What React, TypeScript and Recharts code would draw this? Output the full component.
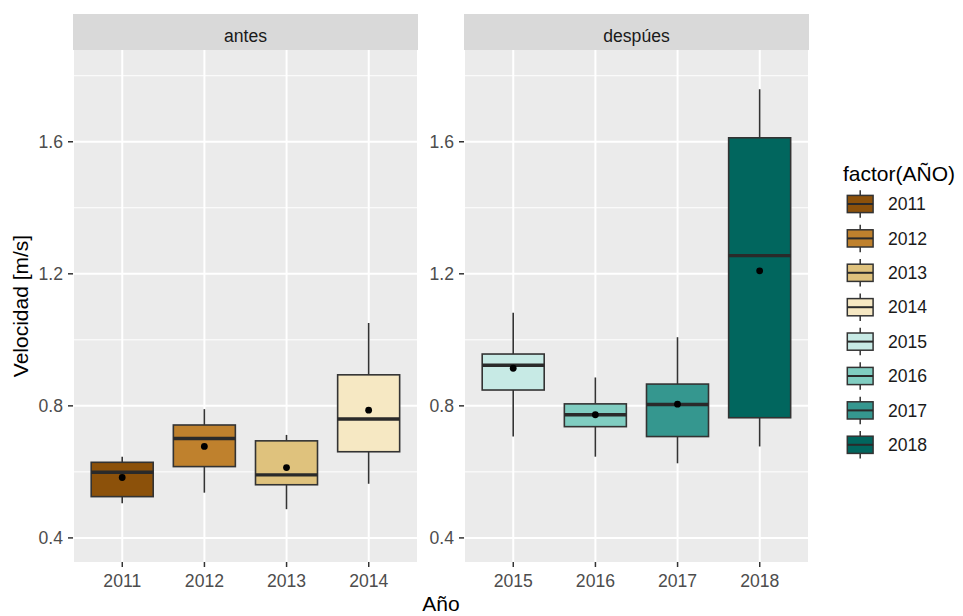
import React from 'react';
import { ComposedChart, Bar, XAxis, YAxis, CartesianGrid } from 'recharts';

const years = ['2011', '2012', '2013', '2014', '2015', '2016', '2017', '2018'];
const panelAntes = ['2011', '2012', '2013', '2014'];
const panelDespues = ['2015', '2016', '2017', '2018'];
const whiskerLow = [0.505, 0.537, 0.487, 0.564, 0.707, 0.646, 0.626, 0.677];
const q1 = [0.525, 0.616, 0.561, 0.661, 0.848, 0.737, 0.707, 0.764];
const median = [0.599, 0.701, 0.591, 0.760, 0.923, 0.773, 0.804, 1.255];
const q3 = [0.629, 0.742, 0.694, 0.894, 0.957, 0.806, 0.866, 1.612];
const whiskerHigh = [0.646, 0.790, 0.712, 1.051, 1.082, 0.886, 1.008, 1.759];
const mean = [0.583, 0.677, 0.613, 0.787, 0.914, 0.773, 0.805, 1.209];
const colors = ['#8C510A', '#BF812D', '#DFC27D', '#F6E8C3', '#C7EAE5', '#80CDC1', '#35978F', '#01665E'];
const majorTicks = [0.4, 0.8, 1.2, 1.6];
const minorTicks = [0.6, 1.0, 1.4, 1.8];
const stripLabels = ['antes', 'despúes'];

const FONT = '"Liberation Sans", Arial, sans-serif';
const OUTLINE = '#333333';

const rowsFor = (panel: string[]) =>
  panel.map((yr) => {
    const i = years.indexOf(yr);
    return {
      year: yr,
      lo: whiskerLow[i],
      q1: q1[i],
      med: median[i],
      q3: q3[i],
      hi: whiskerHigh[i],
      mean: mean[i],
      fill: colors[i],
    };
  });

const BoxShape = (props: any) => {
  const { x, y, width, height, payload } = props;
  if (!payload) return null;
  const top = Math.min(y, y + height);
  const bottom = Math.max(y, y + height);
  const span = payload.hi - payload.lo;
  const py = (v: number) => top + ((bottom - top) * (payload.hi - v)) / span;
  const cx = x + width / 2;
  return (
    <g>
      <line x1={cx} x2={cx} y1={py(payload.hi)} y2={py(payload.q3)} stroke={OUTLINE} strokeWidth={1.6} />
      <line x1={cx} x2={cx} y1={py(payload.q1)} y2={py(payload.lo)} stroke={OUTLINE} strokeWidth={1.6} />
      <rect
        x={x}
        y={py(payload.q3)}
        width={width}
        height={py(payload.q1) - py(payload.q3)}
        fill={payload.fill}
        stroke={OUTLINE}
        strokeWidth={1.6}
      />
      <line x1={x} x2={x + width} y1={py(payload.med)} y2={py(payload.med)} stroke="#2A2A2A" strokeWidth={3.4} />
      <circle cx={cx} cy={py(payload.mean)} r={3.4} fill="#000000" />
    </g>
  );
};

const tickStyle = { fill: '#4D4D4D', fontSize: 17.6, fontFamily: FONT };

function Panel({ panel, left, showTitle }: { panel: string[]; left: number; showTitle: boolean }) {
  const rows = rowsFor(panel);
  return (
    <div style={{ position: 'absolute', left, top: 0 }}>
      <ComposedChart width={420} height={616} data={rows} margin={{ top: 50, right: 2, bottom: 24, left: 0 }}>
        <CartesianGrid fill="#EBEBEB" stroke="#FFFFFF" strokeWidth={1} horizontalValues={minorTicks} vertical={false} />
        <CartesianGrid stroke="#FFFFFF" strokeWidth={2} horizontalValues={majorTicks} />
        <XAxis
          dataKey="year"
          type="category"
          interval={0}
          height={30}
          padding={{ left: 8.2, right: 8.2 }}
          axisLine={false}
          tickLine={{ stroke: OUTLINE, strokeWidth: 1.5 }}
          tickSize={5}
          tickMargin={8}
          tick={tickStyle}
        />
        <YAxis
          type="number"
          domain={[0.327, 1.878]}
          ticks={majorTicks}
          allowDataOverflow
          width={73}
          axisLine={false}
          tickLine={{ stroke: OUTLINE, strokeWidth: 1.5 }}
          tickSize={5}
          tickMargin={5}
          tick={tickStyle}
          tickFormatter={(v: number) => v.toFixed(1)}
          label={
            showTitle
              ? {
                  value: 'Velocidad [m/s]',
                  angle: -90,
                  position: 'insideLeft',
                  offset: 21,
                  style: { textAnchor: 'middle', fontSize: 21, fill: '#000000', fontFamily: FONT },
                }
              : undefined
          }
        />
        <Bar dataKey={(d: any) => [d.lo, d.hi]} barSize={62} shape={BoxShape} isAnimationActive={false} />
      </ComposedChart>
    </div>
  );
}

function Overlay() {
  const strips = [
    { x0: 73, x1: 418 },
    { x0: 464, x1: 809 },
  ];
  const keyCell = 34.4;
  const keyTop = 204 - keyCell / 2;
  return (
    <svg
      width={963}
      height={616}
      style={{ position: 'absolute', left: 0, top: 0, pointerEvents: 'none' }}
      fontFamily={FONT}
    >
      {strips.map((s, i) => (
        <g key={i}>
          <rect x={s.x0} y={14} width={s.x1 - s.x0} height={36} fill="#D9D9D9" />
          <text x={(s.x0 + s.x1) / 2} y={41.5} textAnchor="middle" fontSize={17.6} fill="#1A1A1A">
            {stripLabels[i]}
          </text>
        </g>
      ))}
      <text x={441} y={611} textAnchor="middle" fontSize={21} fill="#000000">
        Año
      </text>
      <text x={843} y={181} fontSize={21} fill="#000000">
        factor(AÑO)
      </text>
      {years.map((yr, i) => {
        const cy = keyTop + keyCell * i + keyCell / 2;
        const x0 = 843;
        const bx = x0 + keyCell * 0.125;
        const bw = keyCell * 0.75;
        const cx = x0 + keyCell / 2;
        return (
          <g key={yr}>
            <line x1={cx} x2={cx} y1={cy - keyCell * 0.4} y2={cy + keyCell * 0.4} stroke={OUTLINE} strokeWidth={1.5} />
            <rect x={bx} y={cy - keyCell * 0.25} width={bw} height={keyCell * 0.5} fill={colors[i]} stroke={OUTLINE} strokeWidth={1.5} />
            <line x1={bx} x2={bx + bw} y1={cy} y2={cy} stroke="#2A2A2A" strokeWidth={2} />
            <text x={888} y={cy + 6.2} fontSize={17.6} fill="#1A1A1A">
              {yr}
            </text>
          </g>
        );
      })}
    </svg>
  );
}

export default function App() {
  return (
    <div style={{ position: 'absolute', left: 0, top: 0, width: 963, height: 616, background: '#FFFFFF', overflow: 'hidden' }}>
      <Panel panel={panelAntes} left={0} showTitle={true} />
      <Panel panel={panelDespues} left={391} showTitle={false} />
      <Overlay />
    </div>
  );
}
